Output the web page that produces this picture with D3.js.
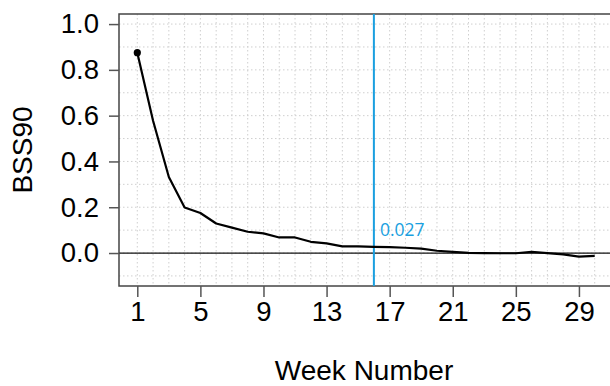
<!DOCTYPE html>
<html>
<head>
<meta charset="utf-8">
<script src="https://cdn.jsdelivr.net/npm/d3@7"></script>
<style>
  body { margin: 0; background: #fff; }
  svg { display: block; }
  text { font-family: "Liberation Sans", Arial, sans-serif; }
</style>
</head>
<body>
<svg id="chart" width="610" height="386"></svg>
<script>
// データ
var weeks = d3.range(1, 31);
var bss90 = [0.875, 0.578, 0.332, 0.199, 0.175, 0.129, 0.111, 0.093, 0.086, 0.068,
             0.068, 0.049, 0.042, 0.029, 0.029, 0.027, 0.026, 0.023, 0.019, 0.010,
             0.005, 0.001, 0.000, -0.001, -0.001, 0.005, 0.000, -0.006, -0.016, -0.012];
var xTicks = [1, 5, 9, 13, 17, 21, 25, 29];
var yTicks = [0.0, 0.2, 0.4, 0.6, 0.8, 1.0];
var markWeek = 16;
var markLabel = "0.027";

var svg = d3.select("#chart");
// window.top と衝突しないように別名
var pLeft = 119, pTop = 14, pRight = 613, pBottom = 286;

// Rのデフォルト4%拡張
var x = d3.scaleLinear().domain([1 - 29 * 0.04, 30 + 29 * 0.04]).range([pLeft, pRight]);
var y = d3.scaleLinear().domain([-0.1 - 1.1 * 0.04, 1.0 + 1.1 * 0.04]).range([pBottom, pTop]);

var g = svg.append("g");

// グリッド
g.selectAll(".hgrid").data(d3.range(-1, 11).map(function (d) { return d / 10; }))
  .enter().append("line")
  .attr("x1", pLeft).attr("x2", pRight)
  .attr("y1", function (d) { return y(d); }).attr("y2", function (d) { return y(d); })
  .attr("stroke", "#cfcfcf").attr("stroke-width", 1).attr("stroke-dasharray", "1.5,2.5");
g.selectAll(".vgrid").data(weeks)
  .enter().append("line")
  .attr("y1", pTop).attr("y2", pBottom)
  .attr("x1", function (d) { return x(d); }).attr("x2", function (d) { return x(d); })
  .attr("stroke", "#cfcfcf").attr("stroke-width", 1).attr("stroke-dasharray", "1.5,2.5");

// ゼロ線
g.append("line")
  .attr("x1", pLeft).attr("x2", pRight)
  .attr("y1", y(0)).attr("y2", y(0))
  .attr("stroke", "#111").attr("stroke-width", 1.2);

// 枠
g.append("rect")
  .attr("x", pLeft).attr("y", pTop)
  .attr("width", pRight - pLeft).attr("height", pBottom - pTop)
  .attr("fill", "none").attr("stroke", "#444").attr("stroke-width", 1.5);

// 軸
var yAxis = d3.axisLeft(y).tickValues(yTicks).tickFormat(d3.format(".1f")).tickSize(10).tickPadding(10);
var yg = svg.append("g").attr("transform", "translate(" + pLeft + ",0)").call(yAxis);
var xAxis = d3.axisBottom(x).tickValues(xTicks).tickSize(11).tickPadding(4);
var xg = svg.append("g").attr("transform", "translate(0," + pBottom + ")").call(xAxis);
[yg, xg].forEach(function (a) {
  a.select(".domain").remove();
  a.selectAll(".tick line").attr("stroke", "#555").attr("stroke-width", 1.5);
  a.selectAll(".tick text").attr("fill", "#000").style("font-size", "27.5px")
    .style("font-family", "'Liberation Sans', Arial, sans-serif");
});

// 縦線と注記
svg.append("line")
  .attr("x1", x(markWeek)).attr("x2", x(markWeek))
  .attr("y1", pTop).attr("y2", pBottom)
  .attr("stroke", "#1a9fe0").attr("stroke-width", 2);
svg.append("text")
  .attr("x", x(markWeek) + 6).attr("y", y(bss90[markWeek - 1]) - 10.5)
  .attr("fill", "#1a9fe0")
  .style("font-family", "'Open Sans', sans-serif").style("font-size", "17.5px")
  .text(markLabel);

// 折れ線
var line = d3.line()
  .x(function (d, i) { return x(weeks[i]); })
  .y(function (d) { return y(d); });
svg.append("path").datum(bss90)
  .attr("d", line)
  .attr("fill", "none").attr("stroke", "#000").attr("stroke-width", 2.2)
  .attr("stroke-linejoin", "round");
svg.append("circle")
  .attr("cx", x(weeks[0])).attr("cy", y(bss90[0])).attr("r", 3.6)
  .attr("fill", "#000");

// 軸ラベル
svg.append("text")
  .attr("x", (pLeft + pRight) / 2 - 2).attr("y", 380)
  .attr("text-anchor", "middle").style("font-size", "28px").attr("fill", "#000")
  .text("Week Number");
svg.append("text")
  .attr("transform", "translate(32," + (pTop + pBottom) / 2 + ") rotate(-90)")
  .attr("text-anchor", "middle").style("font-size", "28px").attr("fill", "#000")
  .text("BSS90");
</script>
</body>
</html>
